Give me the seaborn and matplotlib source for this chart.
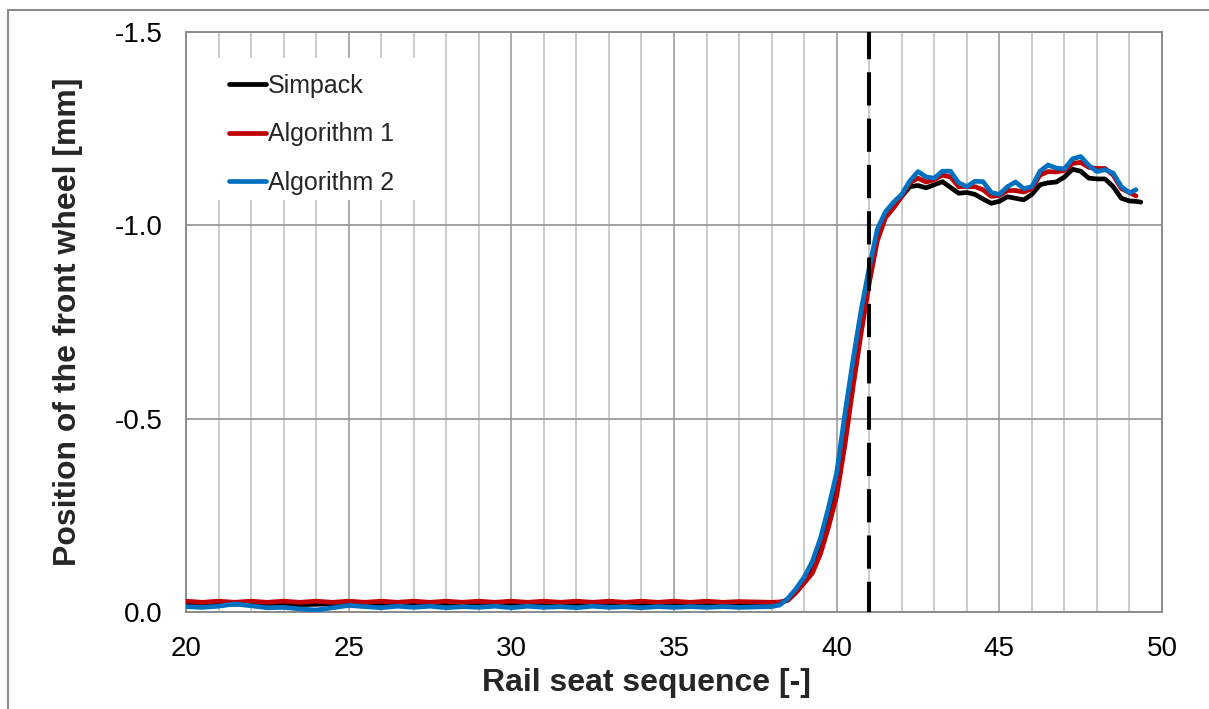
import numpy as np
import pandas as pd
import matplotlib
matplotlib.use("Agg")
import matplotlib.pyplot as plt
from matplotlib.lines import Line2D
from matplotlib.patches import Rectangle
from matplotlib.ticker import MultipleLocator, FormatStrFormatter
import seaborn as sns

# ---------------------------------------------------------------- data
# shared rail-seat positions (flat section, rise, plateau)
seats_flat = [20.0, 20.5, 21.0, 21.5, 22.0, 22.5, 23.0, 23.5, 24.0, 24.5,
              25.0, 25.5, 26.0, 26.5, 27.0, 27.5, 28.0, 28.5, 29.0, 29.5,
              30.0, 30.5, 31.0, 31.5, 32.0, 32.5, 33.0, 33.5, 34.0, 34.5,
              35.0, 35.5, 36.0, 36.5, 37.0, 37.5]
seats_rise = [38.0, 38.25, 38.5, 38.75, 39.0, 39.25, 39.5, 39.75,
              40.0, 40.25, 40.5, 40.75]
seats_plateau = [41.0, 41.25, 41.5, 41.75, 42.0, 42.25, 42.5, 42.75,
                 43.0, 43.25, 43.5, 43.75, 44.0, 44.25, 44.5, 44.75,
                 45.0, 45.25, 45.5, 45.75, 46.0, 46.25, 46.5, 46.75,
                 47.0, 47.25, 47.5, 47.75, 48.0, 48.25, 48.5, 48.75, 49.0]

simpack_flat = [-0.021, -0.019, -0.022, -0.020, -0.022, -0.019, -0.021, -0.019,
                -0.020, -0.021, -0.022, -0.019, -0.022, -0.019, -0.022, -0.019,
                -0.022, -0.019, -0.022, -0.019, -0.022, -0.019, -0.022, -0.019,
                -0.022, -0.019, -0.022, -0.019, -0.022, -0.019, -0.022, -0.019,
                -0.022, -0.019, -0.021, -0.019]
simpack_rise = [-0.020, -0.022, -0.032, -0.055, -0.080, -0.110, -0.160, -0.235,
                -0.320, -0.450, -0.600, -0.740]
simpack_plateau = [-0.860, -0.970, -1.025, -1.050, -1.075, -1.100, -1.103, -1.097,
                   -1.105, -1.113, -1.098, -1.083, -1.085, -1.080, -1.068, -1.057,
                   -1.062, -1.074, -1.070, -1.066, -1.080, -1.105, -1.110, -1.112,
                   -1.125, -1.145, -1.140, -1.122, -1.120, -1.120, -1.100, -1.070,
                   -1.063]
simpack_tail_seats = [49.2, 49.35]
simpack_tail = [-1.062, -1.060]

alg1_flat = [-0.028, -0.025, -0.028, -0.025, -0.028, -0.025, -0.028, -0.025,
             -0.028, -0.025, -0.028, -0.025, -0.028, -0.025, -0.028, -0.025,
             -0.028, -0.025, -0.028, -0.025, -0.028, -0.025, -0.028, -0.025,
             -0.028, -0.025, -0.028, -0.025, -0.028, -0.025, -0.028, -0.025,
             -0.028, -0.025, -0.027, -0.026]
alg1_rise = [-0.025, -0.026, -0.030, -0.050, -0.075, -0.100, -0.150, -0.220,
             -0.300, -0.430, -0.580, -0.720]
alg1_plateau = [-0.850, -0.960, -1.020, -1.045, -1.075, -1.110, -1.122, -1.112,
                -1.118, -1.130, -1.125, -1.100, -1.100, -1.100, -1.092, -1.075,
                -1.077, -1.090, -1.090, -1.086, -1.095, -1.130, -1.139, -1.138,
                -1.142, -1.160, -1.163, -1.150, -1.147, -1.147, -1.130, -1.095,
                -1.085]
alg1_tail_seats = [49.2]
alg1_tail = [-1.076]

alg2_flat = [-0.014, -0.012, -0.015, -0.021, -0.016, -0.011, -0.012, -0.008,
             -0.005, -0.011, -0.017, -0.014, -0.011, -0.015, -0.012, -0.015,
             -0.011, -0.014, -0.012, -0.015, -0.011, -0.015, -0.012, -0.014,
             -0.011, -0.015, -0.012, -0.014, -0.011, -0.014, -0.012, -0.014,
             -0.012, -0.014, -0.012, -0.013]
alg2_rise = [-0.014, -0.018, -0.035, -0.060, -0.090, -0.130, -0.190, -0.270,
             -0.360, -0.510, -0.650, -0.780]
alg2_plateau = [-0.890, -0.990, -1.035, -1.060, -1.080, -1.115, -1.139, -1.125,
                -1.122, -1.140, -1.140, -1.110, -1.100, -1.114, -1.113, -1.085,
                -1.080, -1.100, -1.112, -1.095, -1.100, -1.140, -1.156, -1.148,
                -1.146, -1.172, -1.178, -1.155, -1.139, -1.144, -1.135, -1.100,
                -1.084]
alg2_tail_seats = [49.2]
alg2_tail = [-1.092]

series_names = ["Simpack", "Algorithm 1", "Algorithm 2"]
series_colors = ["#000000", "#c00000", "#0070c0"]
transition_seat = 41

x_ticks = [20, 25, 30, 35, 40, 45, 50]
y_ticks = [0.0, -0.5, -1.0, -1.5]

# ---------------------------------------------------------------- frame
seats_common = seats_flat + seats_rise + seats_plateau
rows = []
for name, values, tail_x, tail_y in [
        ("Simpack", simpack_flat + simpack_rise + simpack_plateau, simpack_tail_seats, simpack_tail),
        ("Algorithm 1", alg1_flat + alg1_rise + alg1_plateau, alg1_tail_seats, alg1_tail),
        ("Algorithm 2", alg2_flat + alg2_rise + alg2_plateau, alg2_tail_seats, alg2_tail)]:
    xs = seats_common + tail_x
    ys = values + tail_y
    for xv, yv in zip(xs, ys):
        rows.append({"seat": xv, "position": yv, "series": name})
df = pd.DataFrame(rows)

# ---------------------------------------------------------------- style
sns.set_style("white")
plt.rcParams["font.family"] = ["Liberation Sans", "DejaVu Sans"]
plt.rcParams["axes.unicode_minus"] = False

fig = plt.figure(figsize=(12.09, 7.09), dpi=100)
ax = fig.add_axes([186 / 1209, 1 - 612 / 709, 976 / 1209, 580 / 709])

sns.lineplot(data=df, x="seat", y="position", hue="series",
             hue_order=series_names, palette=series_colors,
             estimator=None, sort=False, linewidth=3.4, ax=ax, legend=False,
             solid_joinstyle="round", solid_capstyle="round", zorder=3)

# dashed marker drawn from the top of the plot downwards
ax.axvline(transition_seat, ymin=1, ymax=0, color="black", linewidth=2.9,
           linestyle=(1.5, (8.25, 3.25)), zorder=4)

ax.set_xlim(20, 50)
ax.set_ylim(0, -1.5)
ax.set_xticks(x_ticks)
ax.set_yticks(y_ticks)
ax.xaxis.set_minor_locator(MultipleLocator(1))
ax.yaxis.set_major_formatter(FormatStrFormatter("%.1f"))

ax.set_axisbelow(True)
ax.grid(which="major", axis="x", color="#a6a6a6", linewidth=1.3)
ax.grid(which="minor", axis="x", color="#c8c8c8", linewidth=1.3)
ax.grid(which="major", axis="y", color="#9a9a9a", linewidth=1.3)

for s in ax.spines.values():
    s.set_color("#8c8c8c")
    s.set_linewidth(1.4)

ax.tick_params(axis="both", which="major", direction="out", length=7,
               width=1.3, color="#8c8c8c", labelsize=20, labelcolor="black")
ax.tick_params(axis="x", which="major", length=9, pad=8)
ax.tick_params(axis="y", which="major", pad=10)
ax.tick_params(which="minor", length=0)

ax.set_xlabel("Rail seat sequence [-]", fontsize=23, fontweight="bold")
ax.set_ylabel("Position of the front wheel [mm]", fontsize=23, fontweight="bold")
ax.xaxis.set_label_coords(0.472, -0.123)
ax.xaxis.label.set_verticalalignment("center")
ax.yaxis.set_label_coords(-0.121, 0.5)
ax.yaxis.label.set_verticalalignment("center")

# white legend panel over the grid
ax.add_patch(Rectangle((0.0195, 0.71), 0.23, 0.245, transform=ax.transAxes,
                       facecolor="white", edgecolor="none", zorder=1))
handles = [Line2D([], [], color=c, linewidth=3.4) for c in series_colors]
leg = ax.legend(handles, series_names, loc="upper left",
                bbox_to_anchor=(0.044, 0.928), frameon=False, borderpad=0,
                handlelength=1.5, handletextpad=0.06, labelspacing=0.98,
                fontsize=18, borderaxespad=0)
leg.set_zorder(5)

# outer chart border
fig.add_artist(Line2D([8 / 1209, 8 / 1209], [0, 1 - 10 / 709],
                      transform=fig.transFigure, color="#8c8c8c", linewidth=1.5))
fig.add_artist(Line2D([8 / 1209, 1], [1 - 10 / 709, 1 - 10 / 709],
                      transform=fig.transFigure, color="#8c8c8c", linewidth=1.5))

fig.savefig("out.png", dpi=100)
